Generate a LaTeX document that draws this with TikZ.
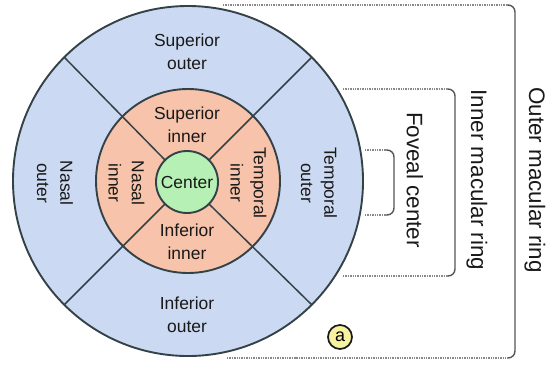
\documentclass[tikz,border=0pt]{standalone}
\usepackage{fontspec}
\setmainfont{Liberation Sans}
\usepackage{xcolor}
\usepackage{tikz}
\usetikzlibrary{arrows.meta, positioning}

\definecolor{outerblue}{RGB}{203,218,242}
\definecolor{innerorange}{RGB}{247,195,170}
\definecolor{centergreen}{RGB}{182,240,180}
\definecolor{ringline}{RGB}{52,66,72}
\definecolor{brkgray}{RGB}{85,85,85}
\definecolor{badgeyellow}{RGB}{246,242,160}

\begin{document}
\begin{tikzpicture}[x=1bp, y=-1bp,
ring/.style={circle, draw=ringline, line width=1.9bp, inner sep=0pt, outer sep=0pt},
lbl/.style={align=center, font=\fontsize{17.5}{23.5}\selectfont, text=black!90},
side/.style={lbl, rotate=-90},
sector/.style={draw=ringline, line width=1.5bp},
brk/.style={draw=brkgray, line width=1.4bp, rounded corners=7bp},
dots/.style={draw=brkgray!70, line width=1.4bp, densely dotted},
brklbl/.style={rotate=-90, font=\fontsize{22.5}{27}\selectfont, text=black!90},
badge/.style={circle, draw=black!90, fill=badgeyellow, line width=1.7bp, minimum size=24bp, inner sep=0pt, font=\fontsize{18}{18}\selectfont}
]
\useasboundingbox (0,0) rectangle (547,365);

% rings
\node[ring, fill=outerblue, minimum size=350bp] (outer) at (188,181) {};
\node[ring, fill=innerorange, minimum size=184bp] (inner) at (188,181) {};
\node[ring, fill=centergreen, minimum size=62bp, lbl] (ctr) at (187,182) {Center};
\foreach \a in {45,135,225,315}
  \draw[sector] (ctr.\a) -- (outer.\a);

% sector labels
\node[lbl] (supout) at (187,52) {Superior\\outer};
\node[lbl] (supin) at (187,125) {Superior\\inner};
\node[lbl] (infin) at (187,242) {Inferior\\inner};
\node[lbl] (infout) at (187,315) {Inferior\\outer};
\node[side] (nasout) at (55,183) {Nasal\\outer};
\node[side] (nasin) at (126.5,183) {Nasal\\inner};
\node[side] (tempin) at (248.5,183) {Temporal\\inner};
\node[side] (tempout) at (319,183) {Temporal\\outer};
\node[badge] (tag) at (340,337) {a};

% brackets
\foreach \nm/\xl/\xb/\xr/\yt/\yb in {outer/223/227/515/5/358, inner/343/343/455/89/276, fov/365/365/394/150/215} {
  \coordinate (\nm-tl) at (\xl,\yt);
  \coordinate (\nm-tr) at (\xr-8,\yt);
  \coordinate (\nm-bl) at (\xb,\yb);
  \coordinate (\nm-br) at (\xr-8,\yb);
  \draw[dots] (\nm-tl) -- (\nm-tr);
  \draw[dots] (\nm-bl) -- (\nm-br);
  \draw[brk] (\nm-tr) -- (\xr,\yt) -- (\xr,\yb) -- (\nm-br);
}
\node[brklbl] (outerlbl) at (535,180) {Outer macular ring};
\node[brklbl] (innerlbl) at (477,180) {Inner macular ring};
\node[brklbl] (fovlbl) at (415,180) {Foveal center};
\end{tikzpicture}
\end{document}
